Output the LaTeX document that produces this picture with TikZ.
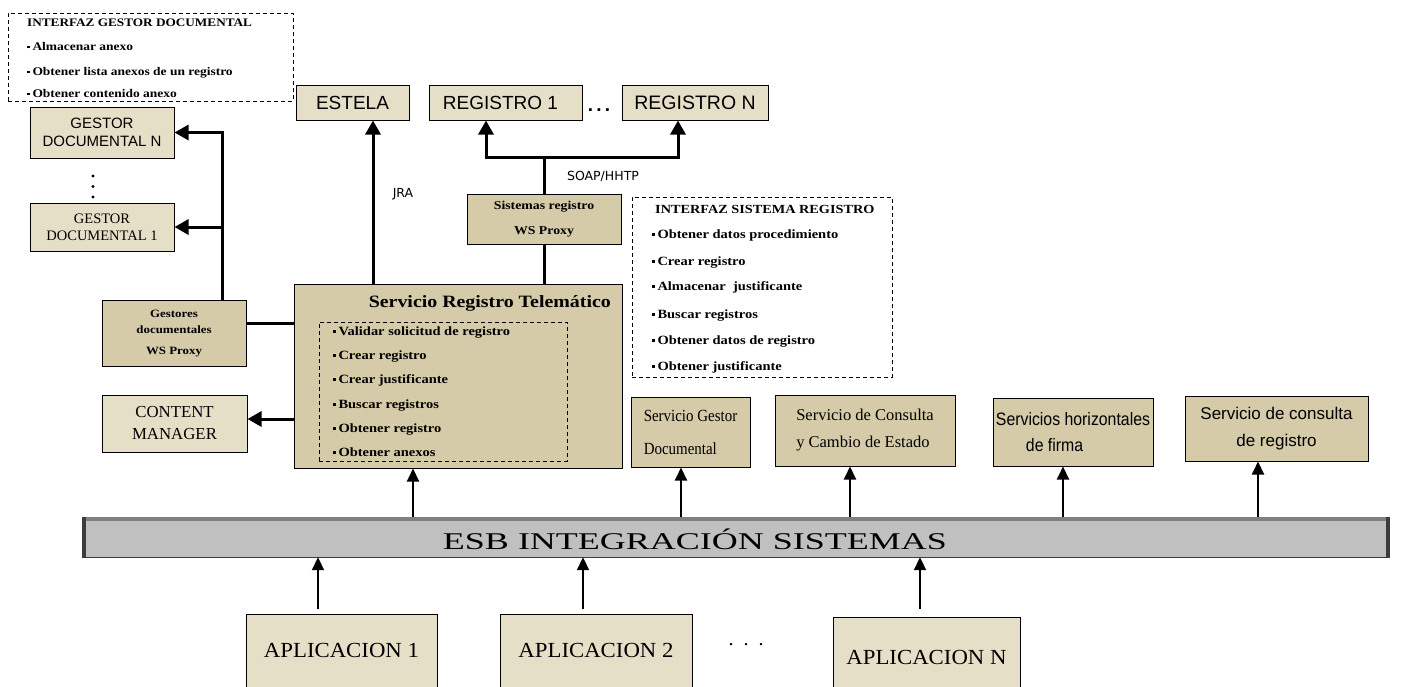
\documentclass[tikz,border=0pt]{standalone}
\usepackage{fontspec}
\setmainfont{Liberation Serif}
\newfontfamily\tsans{Liberation Sans}
\newfontfamily\dsans{DejaVu Sans}
\newfontfamily\bserif[FakeStretch=1.15]{Liberation Serif}
\newfontfamily\nserif[FakeStretch=0.88]{Liberation Serif}
\newfontfamily\nsans[FakeStretch=0.88]{Liberation Sans}
\newfontfamily\wserif[FakeStretch=1.5]{Liberation Serif}
\newfontfamily\aserif[FakeStretch=1.06]{Liberation Serif}
\usetikzlibrary{arrows.meta}
\definecolor{lbeige}{HTML}{E6DFC8}
\definecolor{dtan}{HTML}{D5CBA8}
\definecolor{esbgray}{HTML}{C0C0C0}
\definecolor{esbtop}{HTML}{7F7F7F}
\definecolor{esbedge}{HTML}{3C3C3C}
\newcommand\myfs[2]{\fontsize{#1}{#2}\selectfont}
\newcommand\blt{\raisebox{0.3ex}{\rule{2.8pt}{2.8pt}}\hspace{2.5pt}}
\tikzset{
  lbox/.style={draw=black, line width=1pt, fill=lbeige, inner sep=0pt, align=center},
  dbox/.style={draw=black, line width=1pt, fill=dtan, inner sep=0pt, align=center},
  dashbox/.style={draw=black, line width=0.8pt, dash pattern=on 4pt off 3pt, inner sep=0pt},
  itm/.style={inner sep=0pt, anchor=base west, font=\bserif\myfs{12.6}{13}\bfseries},
  itms/.style={inner sep=0pt, anchor=base west, font=\bserif\myfs{11.7}{12}\bfseries},
  ttl/.style={inner sep=0pt, anchor=base west, font=\bserif\myfs{12.4}{13}\bfseries},
  ttls/.style={inner sep=0pt, anchor=base west, font=\bserif\myfs{11.5}{13}\bfseries},
  lbl/.style={inner sep=0pt, font=\dsans\myfs{12.5}{13}},
  conn/.style={line width=3pt},
  arr/.style={line width=3pt, -{Triangle[length=14pt,width=15pt]}},
  sarr/.style={line width=2pt, -{Triangle[length=13pt,width=12pt]}}
}
\begin{document}
\begin{tikzpicture}[x=1pt,y=-1pt]
\useasboundingbox (0,0) rectangle (1401,686);
\clip (0,0) rectangle (1401,686);
\fill[white] (0,0) rectangle (1401,686);

% INTERFAZ GESTOR DOCUMENTAL
\node[dashbox, minimum width=285, minimum height=88] (igd) at (150.5,57) {};
\node[ttls] (igdt) at (27,26) {INTERFAZ GESTOR DOCUMENTAL};
\node[itms] (igd1) at (27,50) {\blt Almacenar anexo};
\node[itms] (igd2) at (27,75) {\blt Obtener lista anexos de un registro};
\node[itms] (igd3) at (27,97) {\blt Obtener contenido anexo};

% Gestores documentales
\node[lbox, minimum width=144, minimum height=51, font=\tsans\myfs{15}{18}] (gdn) at (102,132.5) {GESTOR\\DOCUMENTAL N};
\fill (93,176) circle (1.7) (93,186.5) circle (1.7) (93,197) circle (1.7);
\node[lbox, minimum width=144, minimum height=48, font=\myfs{14.5}{17}] (gd1) at (102,227) {GESTOR\\DOCUMENTAL 1};
\node[dbox, minimum width=144, minimum height=66, font=\bserif\myfs{11.2}{16}\bfseries] (gwp) at (174,333) {Gestores\\documentales\\[5pt]WS Proxy};
\coordinate (gx) at (222,0);
\draw[arr] (gwp.north -| gx) |- (gdn.east);
\draw[arr] (gwp.north -| gx) |- (gd1.east);

% Content manager
\node[lbox, minimum width=145, minimum height=57, font=\myfs{16.8}{22}] (cm) at (174.5,423.5) {CONTENT\\MANAGER};

% Servicio Registro Telematico
\node[dbox, minimum width=328, minimum height=184] (srt) at (458,376) {};
\node[inner sep=0pt, anchor=base east, font=\bserif\myfs{17.3}{18}\bfseries] (srtt) at (611,307) {Servicio Registro Telemático};
\node[dashbox, minimum width=248, minimum height=139] (srti) at (443,391.5) {};
\node[itm] (s1) at (333,335) {\blt Validar solicitud de registro};
\node[itm] (s2) at (333,359) {\blt Crear registro};
\node[itm] (s3) at (333,383) {\blt Crear justificante};
\node[itm] (s4) at (333,408) {\blt Buscar registros};
\node[itm] (s5) at (333,432) {\blt Obtener registro};
\node[itm] (s6) at (333,456) {\blt Obtener anexos};

\draw[conn] ([yshift=10]gwp.east) -- ([yshift=10]gwp.east -| srt.west);
\draw[arr] ([yshift=4.5]cm.east -| srt.west) -- ([yshift=4.5]cm.east);

% Top row
\node[lbox, minimum width=113, minimum height=35, font=\tsans\myfs{19}{20}] (estela) at (352.5,102.5) {ESTELA};
\node[lbox, minimum width=153, minimum height=35, font=\tsans\myfs{19}{20}] (reg1) at (505.5,102.5) {\hspace*{-10pt}REGISTRO 1};
\node[lbox, minimum width=146, minimum height=35, font=\tsans\myfs{19.5}{20}] (regn) at (695,102.5) {REGISTRO N};
\node[inner sep=0pt, font=\tsans\myfs{19}{20}\bfseries] (rdots) at (599,110) {.\,.\,.};

\coordinate (ex) at (373,0);
\draw[arr] (srt.north -| ex) -- (estela.south -| ex);
\node[lbl] (jra) at (403,194) {JRA};

\node[dbox, minimum width=154, minimum height=50, font=\bserif\myfs{12}{25}\bfseries] (swp) at (544,219) {Sistemas registro\\WS Proxy};
\coordinate (rj) at (544,157);
\coordinate (r1x) at (486,0);
\coordinate (rnx) at (678,0);
\draw[conn] (swp.north) -- (rj);
\draw[arr] (rj) -| (reg1.south -| r1x);
\draw[arr] (rj) -| (regn.south -| rnx);
\draw[conn] (swp.south) -- (swp.south |- srt.north);
\node[lbl] (soap) at (603,176) {SOAP/HHTP};

% INTERFAZ SISTEMA REGISTRO
\node[dashbox, minimum width=260, minimum height=180] (isr) at (762,287) {};
\node[ttl] (isrt) at (655,213) {INTERFAZ SISTEMA REGISTRO};
\node[itm] (i1) at (652,238) {\blt Obtener datos procedimiento};
\node[itm] (i2) at (652,265) {\blt Crear registro};
\node[itm] (i3) at (652,290) {\blt Almacenar\ \ justificante};
\node[itm] (i4) at (652,318) {\blt Buscar registros};
\node[itm] (i5) at (652,344) {\blt Obtener datos de registro};
\node[itm] (i6) at (652,370) {\blt Obtener justificante};

% Service boxes
\node[dbox, align=left, minimum width=119, minimum height=70, font=\nserif\myfs{17}{33}] (sgd) at (690.5,432) {Servicio Gestor\\Documental};
\node[dbox, align=left, minimum width=180, minimum height=71, font=\myfs{16.5}{27}] (scce) at (865,430.5) {Servicio de Consulta\\y Cambio de Estado};
\node[dbox, align=left, minimum width=160, minimum height=68, font=\nsans\myfs{18}{26}] (shf) at (1073,432) {Servicios horizontales\\\hspace{30pt}de firma};
\node[dbox, minimum width=183, minimum height=65, font=\tsans\myfs{17}{27}] (scr) at (1276.5,428.5) {Servicio de consulta\\de registro};

% ESB
\node[fill=esbgray, minimum width=1308, minimum height=40, inner sep=0pt] (esb) at (736,537) {};
\draw[line width=4pt, esbtop] ([yshift=-2]esb.north west) -- ([yshift=-2]esb.north east);
\draw[line width=4pt, esbedge] ([xshift=2]esb.north west) -- ([xshift=2]esb.south west);
\draw[line width=4pt, esbedge] ([xshift=-2]esb.north east) -- ([xshift=-2]esb.south east);
\draw[line width=1.2pt, esbedge] (esb.south west) -- (esb.south east);
\node[inner sep=0pt, anchor=base, font=\wserif\myfs{24}{25}] (esbt) at (695,549) {ESB INTEGRACIÓN SISTEMAS};

\coordinate (u1) at (413,0);
\coordinate (u2) at (681,0);
\coordinate (u3) at (850,0);
\coordinate (u4) at (1063,0);
\coordinate (u5) at (1258,0);
\draw[sarr] (esb.north -| u1) -- (srt.south -| u1);
\draw[sarr] (esb.north -| u2) -- (sgd.south -| u2);
\draw[sarr] (esb.north -| u3) -- (scce.south -| u3);
\draw[sarr] (esb.north -| u4) -- (shf.south -| u4);
\draw[sarr] (esb.north -| u5) -- (scr.south -| u5);

% Applications
\node[lbox, minimum width=191, minimum height=90] (a1) at (341.5,659) {};
\node[lbox, minimum width=192, minimum height=90] (a2) at (596,659) {};
\node[lbox, minimum width=187, minimum height=90] (an) at (926.5,662) {};
\node[inner sep=0pt, anchor=base, font=\aserif\myfs{21.5}{22}] (a1t) at (341.5,657) {APLICACION 1};
\node[inner sep=0pt, anchor=base, font=\aserif\myfs{21.5}{22}] (a2t) at (596,657) {APLICACION 2};
\node[inner sep=0pt, anchor=base, font=\aserif\myfs{21.5}{22}] (ant) at (926.5,664) {APLICACION N};
\node[inner sep=0pt, font=\myfs{20}{21}] (adots) at (746,645) {.\ \ .\ \ .};

\coordinate (d1) at (318,0);
\coordinate (d2) at (583,0);
\coordinate (d3) at (920,0);
\draw[sarr] ([yshift=5]a1.north -| d1) -- (esb.south -| d1);
\draw[sarr] ([yshift=5]a2.north -| d2) -- (esb.south -| d2);
\draw[sarr] ([yshift=8]an.north -| d3) -- (esb.south -| d3);
\end{tikzpicture}
\end{document}
